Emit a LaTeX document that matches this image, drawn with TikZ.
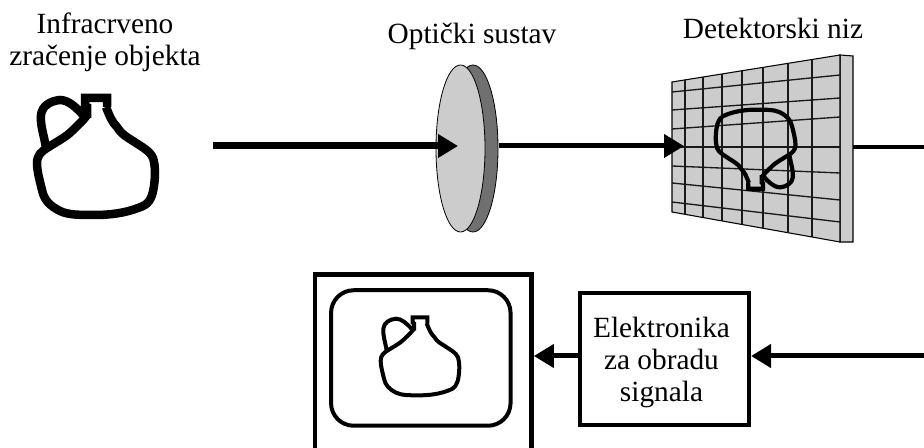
\documentclass[tikz,border=0pt]{standalone}
\usepackage{fontspec}
\setmainfont{Liberation Serif}
\usetikzlibrary{arrows.meta,shapes.geometric}
\definecolor{lensgrey}{HTML}{CCCCCC}
\definecolor{lensdark}{HTML}{707070}
\newlength{\pxu}\setlength{\pxu}{0.75pt}
\tikzset{
  conn/.style={draw=black,-{Triangle[length=15pt,width=17pt]}},
  plainconn/.style={draw=black},
  lbl/.style={font=\fontsize{22}{24}\selectfont,align=center,inner sep=0pt,text=black},
  jugline/.style={draw=black,line join=miter,line cap=butt},
  lensdisc/.style={draw=black,line width=0.6pt,ellipse,inner sep=0pt,minimum width=49\pxu,minimum height=167\pxu},
  gridline/.style={line width=1pt,black!90},
}
\newcommand{\jugpath}{%
  (106,107) .. controls (110,117) and (112,122) .. (117,127)
  .. controls (122,135) and (127,137) .. (133,141)
  .. controls (142,147) and (150,151) .. (153,158)
  .. controls (156,168) and (155,178) .. (154,186)
  .. controls (152,200) and (148,205) .. (138,208)
  .. controls (125,213) and (110,215) .. (95,215)
  .. controls (80,215) and (68,215) .. (60,211)
  .. controls (50,206) and (44,200) .. (42,190)
  .. controls (39,178) and (37,170) .. (37,163)
  .. controls (37,155) and (42,151) .. (47,148)
  .. controls (58,141) and (66,137) .. (72,131)
  .. controls (77,126) and (84,120) .. (87,115)
  (46,148) .. controls (44,135) and (40,125) .. (41,115)
  .. controls (42,106) and (50,101) .. (60,100)
  .. controls (68,100) and (76,107) .. (84,116)
  (87,118) -- (87,107) -- (85,106) -- (85,98) -- (107,98) -- (107,107)
}
\begin{document}
\begin{tikzpicture}[x=0.75pt,y=-0.75pt]
\useasboundingbox (0,0) rectangle (924,448);
\clip (0,0) rectangle (924,448);
% source jug
\draw[jugline,line width=8.5\pxu] \jugpath;
\node[lbl] (srcLabel) at (105,42) {Infracrveno\\zračenje objekta};
\node[lbl] (lensLabel) at (472,36) {Optički sustav};
\node[lbl] (detLabel) at (773,28) {Detektorski niz};
% lens
\node[lensdisc,fill=lensdark,minimum width=50\pxu] (lensBack) at (473,148.5) {};
\node[lensdisc,fill=lensgrey] (lens) at (460.5,148.5) {};
% detector
\coordinate (detIn) at (684,146);
\coordinate (detOut) at (853,147);
\draw[fill=lensgrey,line width=0.8pt] (840,55) -- (853,56) -- (853,242) -- (840,242) -- cycle;
\draw[fill=lensgrey,line width=0.8pt] (672,82) -- (840,55) -- (840,242) -- (672,212) -- cycle;
\begin{scope}
\clip (672,82) -- (840,55) -- (840,242) -- (672,212) -- cycle;
\foreach \vx in {685,703,722,742,763,788,812}
  \draw[gridline] (\vx,40) -- (\vx,250);
\end{scope}
\foreach \ya/\yb in {92/75,110/98,129/117,147/147,166/173,183/200,202/222}
  \draw[gridline] (672,\ya) -- (840,\yb);
\begin{scope}[shift={(820.5,255)},x=-0.507pt,y=0.507pt]
  \draw[jugline,line width=4.2\pxu] \jugpath;
\end{scope}
% bottom boxes
\node[draw=black,line width=3.4pt,minimum width=216.5\pxu,minimum height=211\pxu,inner sep=0pt] (display) at (423.3,380) {};
\node[draw=black,line width=3pt,rounded corners=17pt,minimum width=179.5\pxu,minimum height=135.5\pxu,inner sep=0pt] (screen) at (420.8,358) {};
\begin{scope}[shift={(356,252)},x=0.5pt,y=-0.5pt]
  \draw[jugline,line width=4\pxu] \jugpath;
\end{scope}
\node[draw=black,line width=3pt,minimum width=169\pxu,minimum height=132\pxu,inner sep=0pt] (proc) at (664.5,359) {};
\node[lbl] (procText) at (661.5,362) {Elektronika\\za obradu\\signala};
% connectors
\coordinate (srcOut) at (213,146);
\coordinate (lensIn) at (458,146);
\coordinate (lensOut) at (499,146);
\coordinate (edgeA) at (924,147);
\coordinate (edgeB) at (924,356);
\coordinate (procIn) at (proc.east |- edgeB);
\coordinate (procOut) at (proc.west |- edgeB);
\coordinate (dispIn) at (display.east |- edgeB);
\draw[conn,line width=7\pxu] (srcOut) -- (lensIn);
\draw[conn,line width=5\pxu] (lensOut) -- (detIn);
\draw[plainconn,line width=4\pxu] (detOut) -- (edgeA);
\draw[conn,line width=5\pxu] (edgeB) -- (procIn);
\draw[conn,line width=5\pxu] (procOut) -- (dispIn);
\end{tikzpicture}
\end{document}
